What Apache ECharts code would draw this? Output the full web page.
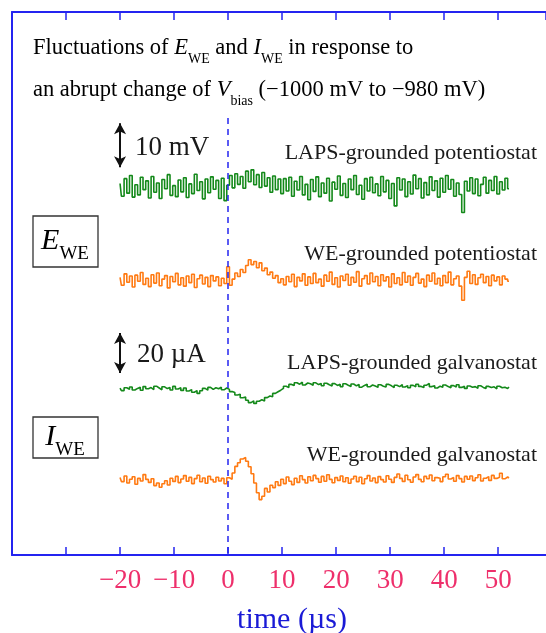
<!DOCTYPE html>
<html>
<head>
<meta charset="utf-8">
<script src="https://cdn.jsdelivr.net/npm/echarts@6/dist/echarts.min.js"></script>
<style>
  html, body { margin: 0; background: #fff; }
  #chart { width: 546px; height: 633px; }
</style>
</head>
<body>
<div id="chart"></div>
<script>
// sampled every 0.5 us from -20 us to 52 us
const tStart = -20;
const tStep = 0.5;

// E_WE, LAPS-grounded potentiostat (mV)
const eLaps = [
  0.8, -2.1, 1.9, -1.4, 2.6, -2.3, 0.5, -1.8, 2.2, -0.6, 1.4, -2.5,
  2.4, -1.2, 0.9, -2.6, 1.7, -0.4, 2.8, -1.9, 0.3, -2.2, 1.6, -1.1,
  2.1, -2.4, 0.7, -1.5, 2.9, -0.8, 1.2, -2.7, 1.8, -1.3, 2.3, -0.5,
  1.5, -2.6, 2.0, -3.1, 0.4, 2.6, -0.2, 3.0, 0.6, 2.4, -0.3, 3.6,
  1.2, 3.9, 0.5, 2.8, -0.1, 3.3, 0.2, 2.1, -1.2, 2.5, -0.6, 1.8,
  -1.5, 1.9, -0.9, 2.2, -2.1, 1.3, -0.7, 2.4, -1.8, 0.6, -2.9, 1.7,
  -1.0, 2.3, -2.2, 0.9, -1.4, 2.0, -3.2, 1.1, -0.5, 2.5, -1.9, 0.8,
  -2.4, 1.8, -0.6, 2.6, -1.7, 0.4, -2.8, 1.9, -0.9, 2.2, -1.3, 0.7,
  -2.0, 2.4, -1.1, 1.5, -2.6, 0.8, -4.3, 2.1, -0.7, 1.8, -2.2, 1.2,
  -1.6, 2.7, -0.4, 1.9, -2.5, 1.0, -1.8, 2.3, -0.8, 1.4, -2.3, 2.0,
  -1.2, 2.6, -0.5, 1.7, -2.1, 0.9, -1.7, -5.8, 1.3, -0.9, 2.1, -1.5,
  1.8, -2.0, 0.6, 2.2, -1.4, 1.5, -0.8, 2.4, -1.6, 1.2, -0.7, 2.0,
  -0.4
];

// E_WE, WE-grounded potentiostat (mV)
const eWe = [
  0.6, -1.2, 1.4, -0.5, 0.9, -1.6, 1.1, -0.3, 1.7, -1.0, 0.4, -1.5,
  1.2, -0.7, 1.6, -1.3, 0.2, 1.0, -1.8, 0.8, -0.4, 1.5, -1.1, 0.5,
  -1.4, 0.9, -0.6, 1.3, -1.7, 0.3, 1.1, -0.9, 0.6, -1.5, 1.0, -0.2,
  0.7, -1.3, 0.4, -0.8, 3.0, -1.2, 0.2, 1.6, 0.8, 2.4, 1.7, 3.3,
  4.6, 3.5, 4.2, 2.8, 3.9, 2.1, 2.7, 1.2, 1.8, 0.4, 1.0, -0.6,
  0.3, -1.1, 0.8, -0.4, 1.3, -1.5, 0.6, -0.2, 1.4, -1.2, 0.7, -0.8,
  1.5, -0.6, 0.2, -1.4, 1.1, -0.3, 1.8, -1.0, 0.5, -1.6, 0.9, -0.1,
  1.3, -1.2, 0.6, -0.5, 1.9, -1.4, 0.3, 1.0, -0.9, 1.6, -0.4, 0.8,
  -1.3, 1.2, -0.2, 0.7, -1.6, 1.4, -0.8, 0.5, -1.1, 1.7, -0.5, 0.9,
  -1.2, 0.6, 1.5, -0.7, 0.2, -1.5, 1.1, -0.3, 1.6, -0.9, 0.4, -1.3,
  1.0, -0.6, 1.8, -1.1, 0.3, 0.9, -1.4, -4.6, 0.6, 2.0, -0.8, 1.2,
  -1.0, 0.5, 1.3, -0.6, 0.8, -1.3, 1.1, -0.2, 0.7, -1.1, 0.9, 0.2,
  -0.3
];

// I_WE, LAPS-grounded galvanostat (uA)
const iLaps = [
  0.4, -0.8, 0.6, -0.2, 1.0, -0.5, 0.3, 0.9, -0.6, 1.2, 0.1, 0.7,
  -0.3, 1.4, 0.5, -0.4, 1.1, 0.2, 0.8, -0.5, 1.3, 0.0, 0.6, -0.7,
  0.5, -1.0, -0.3, -1.6, -0.8, -2.2, -0.9, 0.3, -0.6, 0.8, -0.2, 0.6,
  0.1, 0.9, -0.4, 0.5, -0.2, -1.3, -1.8, -3.0, -2.6, -4.4, -4.0, -5.6,
  -6.8, -5.9, -7.2, -6.1, -5.4, -6.0, -4.3, -3.5, -3.9, -2.2, -1.4, -0.6,
  0.3, 1.4, 0.8, 2.3, 1.7, 3.1, 2.4, 3.4, 2.0, 3.0, 2.6, 1.9,
  3.1, 2.2, 2.8, 1.6, 2.9, 2.1, 1.5, 2.7, 1.8, 2.4, 1.2, 2.6,
  1.9, 1.3, 2.5, 1.6, 2.2, 0.9, 1.8, 2.4, 1.1, 2.0, 1.5, 0.8,
  2.1, 1.4, 1.0, 2.3, 1.6, 0.7, 1.9, 1.2, 2.2, 1.0, 1.7, 0.6,
  1.8, 1.1, 2.4, 1.3, 0.8, 1.9, 2.8, 1.2, 1.6, 0.5, 1.4, 0.9,
  2.0, 1.2, 0.6, 1.7, 1.0, 2.1, 0.8, 1.4, 0.3, 1.5, 0.9, 1.2,
  0.4, 1.6, 0.8, 0.2, 1.3, 0.7, 1.1, 0.1, 1.4, 0.6, 0.9, 0.3,
  1.0
];

// I_WE, WE-grounded galvanostat (uA)
const iWe = [
  1.2, -0.8, 2.0, -1.5, 0.4, 1.6, -2.1, 0.8, -0.5, 2.7, 0.3, -1.2,
  0.6, -2.8, -1.5, -3.6, -1.9, -0.4, -2.5, 0.9, -0.7, 1.8, -1.3, 0.5,
  2.2, -0.6, 1.3, -1.8, 0.7, 2.4, -0.9, 1.0, -1.6, 1.9, 0.2, -1.0,
  1.4, -0.5, 0.8, -1.9, 1.1, 0.4, 3.5, 6.8, 8.6, 10.5, 11.3, 9.4,
  6.6, 3.1, -1.5, -6.4, -9.8, -8.1, -4.2, -6.0, -2.6, -3.8, -0.9, -2.7,
  0.4, -1.8, 1.5, -0.6, -2.3, 0.9, -1.2, 2.1, 0.2, -1.5, 1.6, -0.4,
  2.3, 0.7, -1.1, 1.8, -0.6, 2.6, 0.3, -1.4, 1.2, -0.2, 2.0, -0.9,
  1.1, -1.6, 0.5, 1.9, -0.8, 1.4, -1.9, 0.6, 2.2, -0.5, 1.0, -1.3,
  1.7, 0.2, -1.0, 2.1, 0.4, -1.2, 1.3, 3.0, 0.8, -0.7, 2.4, 0.1,
  -1.1, 1.5, 2.7, 0.3, -0.9, 1.8, 0.6, 2.5, -0.4, 1.2, 0.9, -0.8,
  1.6, 2.9, 0.5, 1.3, -0.6, 2.2, 0.7, -1.0, 1.8, 0.4, 2.0, -0.3,
  1.1, 2.6, -0.5, 0.9, 1.7, -0.2, 2.3, 0.8, 1.4, 3.4, 0.6, 1.5,
  1.0
];

const xTicks = [-20, -10, 0, 10, 20, 30, 40, 50];

const blue = '#2424f0';
const green = '#14891a';
const orange = '#ff7a12';
const serif = 'Liberation Serif';

function pairs(arr) {
  return arr.map((v, i) => [tStart + i * tStep, v]);
}

const chart = echarts.init(document.getElementById('chart'));

const textBase = { fontFamily: serif, fill: '#1a1a1a' };
const titleRich = {
  n: { fontFamily: serif, fontSize: 22.5, color: '#1f2fd0' },
  i: { fontFamily: serif, fontSize: 22.5, fontStyle: 'italic', color: '#1f2fd0' },
  s: { fontFamily: serif, fontSize: 14, color: '#1f2fd0', padding: [22, 0, 0, 0] }
};
const boxRich = {
  i: { fontFamily: serif, fontSize: 30, fontStyle: 'italic', color: '#111' },
  s: { fontFamily: serif, fontSize: 19, color: '#111', padding: [26, 0, 0, 0] }
};

chart.setOption({
  animation: false,
  grid: { left: 12, right: 0, top: 12, bottom: 78, outerBoundsMode: 'none' },
  xAxis: [
    {
      type: 'value', min: -40, max: 58.85, interval: 10, position: 'bottom',
      axisLine: { onZero: false, lineStyle: { color: blue, width: 2 } },
      axisTick: { inside: true, length: 8, lineStyle: { color: blue, width: 1.5 } },
      axisLabel: {
        color: '#ee2f6b', fontFamily: serif, fontSize: 27, margin: 12,
        showMinLabel: false, showMaxLabel: false,
        formatter: v => xTicks.includes(v) ? (v < 0 ? '\u2212' + Math.abs(v) : String(v)) : ''
      },
      splitLine: { show: false },
      name: 'time (\u00b5s)', nameLocation: 'middle', nameGap: 50,
      nameTextStyle: { color: '#1a1ad6', fontFamily: serif, fontSize: 30, padding: [0, 0, 0, 26] }
    },
    {
      type: 'value', min: -40, max: 58.85, interval: 10, position: 'top',
      axisLine: { onZero: false, lineStyle: { color: blue, width: 2 } },
      axisTick: { inside: true, length: 8, lineStyle: { color: blue, width: 1.5 } },
      axisLabel: { show: false },
      splitLine: { show: false }
    }
  ],
  yAxis: [
    {
      type: 'value', min: -83.64, max: 39.77, position: 'left',
      axisLine: { show: true, onZero: false, lineStyle: { color: blue, width: 2 } },
      axisTick: { show: false }, axisLabel: { show: false }, splitLine: { show: false }
    },
    { type: 'value', min: -62.5, max: 60.91, show: false },
    { type: 'value', min: -83, max: 188.5, show: false },
    { type: 'value', min: -37.5, max: 234, show: false }
  ],
  series: [
    {
      type: 'line', yAxisIndex: 0, data: pairs(eLaps), showSymbol: false, step: 'middle',
      lineStyle: { color: green, width: 1.6 },
      markLine: {
        silent: true, symbol: ['arrow', 'arrow'], symbolSize: [9, 11],
        label: { show: false },
        data: [
          [{ coord: [-20, 4.5], lineStyle: { color: '#111', width: 2, type: 'solid' } }, { coord: [-20, 14.5] }],
          [{ coord: [0, 15.7], symbol: 'none', lineStyle: { color: blue, width: 1.5, type: [6, 5] } }, { coord: [0, -83.64], symbol: 'none' }]
        ]
      }
    },
    {
      type: 'line', yAxisIndex: 1, data: pairs(eWe), showSymbol: false, step: 'middle',
      lineStyle: { color: orange, width: 1.6 }
    },
    {
      type: 'line', yAxisIndex: 2, data: pairs(iLaps), showSymbol: false, step: 'middle',
      lineStyle: { color: green, width: 1.6 },
      markLine: {
        silent: true, symbol: ['arrow', 'arrow'], symbolSize: [9, 11],
        label: { show: false },
        data: [
          [{ coord: [-20, 8], lineStyle: { color: '#111', width: 2, type: 'solid' } }, { coord: [-20, 28] }]
        ]
      }
    },
    {
      type: 'line', yAxisIndex: 3, data: pairs(iWe), showSymbol: false, step: 'middle',
      lineStyle: { color: orange, width: 1.6 }
    }
  ],
  graphic: [
    {
      type: 'text', left: 33, top: 37,
      style: { text: '{n|Fluctuations of }{i|E}{s|WE}{n| and }{i|I}{s|WE}{n| in response to}', rich: titleRich }
    },
    {
      type: 'text', left: 33, top: 79,
      style: { text: '{n|an abrupt change of }{i|V}{s|bias}{n| (\u22121000 mV to \u2212980 mV)}', rich: titleRich }
    },
    { type: 'text', x: 135, y: 148, style: Object.assign({ text: '10 mV', fontSize: 27, verticalAlign: 'middle' }, textBase) },
    { type: 'text', x: 537, y: 153, style: Object.assign({ text: 'LAPS-grounded potentiostat', fontSize: 22, align: 'right', verticalAlign: 'middle' }, textBase) },
    { type: 'text', x: 537, y: 254, style: Object.assign({ text: 'WE-grounded potentiostat', fontSize: 22, align: 'right', verticalAlign: 'middle' }, textBase) },
    { type: 'text', x: 137, y: 355, style: Object.assign({ text: '20 \u00b5A', fontSize: 27, verticalAlign: 'middle' }, textBase) },
    { type: 'text', x: 537, y: 363, style: Object.assign({ text: 'LAPS-grounded galvanostat', fontSize: 22, align: 'right', verticalAlign: 'middle' }, textBase) },
    { type: 'text', x: 537, y: 455, style: Object.assign({ text: 'WE-grounded galvanostat', fontSize: 22, align: 'right', verticalAlign: 'middle' }, textBase) },
    { type: 'rect', shape: { x: 33, y: 216, width: 65, height: 51 }, style: { fill: 'none', stroke: '#333', lineWidth: 1.3 } },
    { type: 'text', x: 65, y: 241, style: { text: '{i|E}{s|WE}', rich: boxRich, align: 'center', verticalAlign: 'middle' } },
    { type: 'rect', shape: { x: 33, y: 417, width: 65, height: 41 }, style: { fill: 'none', stroke: '#333', lineWidth: 1.3 } },
    { type: 'text', x: 65, y: 437, style: { text: '{i|I}{s|WE}', rich: boxRich, align: 'center', verticalAlign: 'middle' } }
  ]
});

window.addEventListener('resize', () => chart.resize());
</script>
</body>
</html>
